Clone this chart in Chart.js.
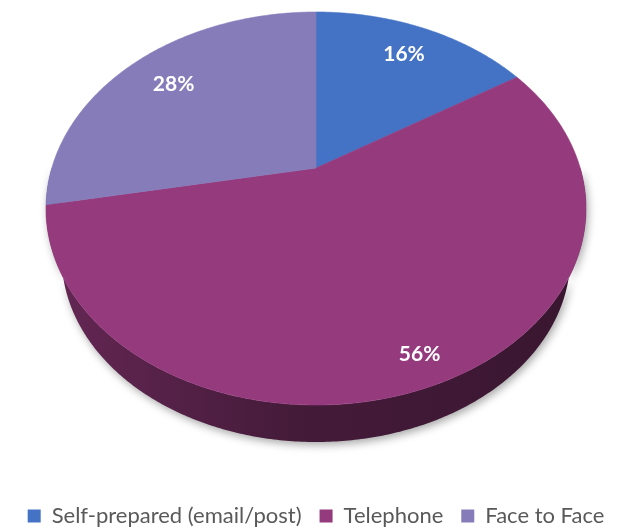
<!DOCTYPE html>
<html>
<head>
<meta charset="utf-8">
<script src="https://cdn.jsdelivr.net/npm/chart.js@4.4.0/dist/chart.umd.min.js"></script>
<style>
  html, body { margin: 0; padding: 0; background: #fff; }
  #wrap { width: 624px; height: 529px; }
</style>
</head>
<body>
<div id="wrap"><canvas id="pie3d"></canvas></div>
<script>
const categories = ["Self-prepared (email/post)", "Telephone", "Face to Face"];
const shares = [16, 56, 28];
const colors = ["#4472C4", "#953A7D", "#857CB9"];

// tilted pie look
const tilt = 0.206;        // how strongly the far side shrinks
const faceWidth = 540;
const faceHeight = 393;
const depth = 37;          // wall height at the front
const baseScale = 0.942;   // bottom rim is a bit smaller than the top one
const labelRadii = [0.79, 0.885, 0.77];

function shade(hex, f) {
  const n = parseInt(hex.slice(1), 16);
  const r = Math.round(((n >> 16) & 255) * f);
  const g = Math.round(((n >> 8) & 255) * f);
  const b = Math.round((n & 255) * f);
  return "rgb(" + r + "," + g + "," + b + ")";
}

const pie3d = {
  id: "pie3d",
  beforeDatasetsDraw(chart) {
    const ctx = chart.ctx;
    const arcs = chart.getDatasetMeta(0).data;
    const values = chart.data.datasets[0].data;
    const e = tilt;
    const sx = faceWidth / 2 * Math.sqrt(1 - e * e);
    const sy = faceHeight / 2 * (1 - e * e);
    const ax = arcs[0].x;
    const ay = chart.chartArea.top + sy / (1 + e);
    const ecy = ay + sy * e / (1 - e * e);
    const drop = faceHeight / 2 + depth - baseScale * faceHeight / 2;

    // phi runs clockwise from the back of the pie
    const proj = (phi, r) => {
      const X = r * Math.sin(phi), Z = r * Math.cos(phi);
      const w = 1 + e * Z;
      return { x: ax + sx * X / w, y: ay - sy * Z / w };
    };
    const under = q => ({
      x: ax + (q.x - ax) * baseScale,
      y: ecy + drop + (q.y - ecy) * baseScale
    });

    ctx.save();

    // walls on the front half
    arcs.forEach((a, i) => {
      const p1 = Math.max(a.startAngle + Math.PI / 2, Math.PI / 2);
      const p2 = Math.min(a.endAngle + Math.PI / 2, 3 * Math.PI / 2);
      if (p2 <= p1) return;
      const n = Math.ceil((p2 - p1) / 0.01);
      const top = [], bottom = [];
      for (let k = 0; k <= n; k++) {
        const q = proj(p1 + (p2 - p1) * k / n, 1);
        top.push(q);
        bottom.push(under(q));
      }
      const grad = ctx.createLinearGradient(ax - faceWidth / 2, 0, ax + faceWidth / 2, 0);
      grad.addColorStop(0, shade(colors[i], 0.68));
      grad.addColorStop(0.45, shade(colors[i], 0.46));
      grad.addColorStop(1, shade(colors[i], 0.38));
      ctx.beginPath();
      top.forEach((q, k) => k ? ctx.lineTo(q.x, q.y) : ctx.moveTo(q.x, q.y));
      for (let k = bottom.length - 1; k >= 0; k--) ctx.lineTo(bottom[k].x, bottom[k].y);
      ctx.closePath();
      ctx.shadowColor = "rgba(0,0,0,0.35)";
      ctx.shadowBlur = 9;
      ctx.shadowOffsetX = 2;
      ctx.shadowOffsetY = 3;
      ctx.fillStyle = grad;
      ctx.fill();
    });
    ctx.shadowColor = "transparent";

    // top face
    arcs.forEach((a, i) => {
      const p1 = a.startAngle + Math.PI / 2;
      const p2 = a.endAngle + Math.PI / 2;
      const n = Math.max(2, Math.ceil((p2 - p1) / 0.01));
      ctx.beginPath();
      ctx.moveTo(ax, ay);
      for (let k = 0; k <= n; k++) {
        const q = proj(p1 + (p2 - p1) * k / n, 1);
        ctx.lineTo(q.x, q.y);
      }
      ctx.closePath();
      ctx.fillStyle = colors[i];
      ctx.strokeStyle = colors[i];
      ctx.lineWidth = 0.6;
      ctx.fill();
      ctx.stroke();
    });

    // value labels
    ctx.fillStyle = "#ffffff";
    ctx.font = "bold 21px Lato";
    ctx.textAlign = "center";
    ctx.textBaseline = "middle";
    arcs.forEach((a, i) => {
      const mid = (a.startAngle + a.endAngle) / 2 + Math.PI / 2;
      const q = proj(mid, labelRadii[i]);
      ctx.fillText(values[i] + "%", q.x, q.y);
    });

    ctx.restore();
    return false;
  }
};

new Chart(document.getElementById("pie3d"), {
  type: "pie",
  data: {
    labels: categories,
    datasets: [
      {
        data: shares,
        backgroundColor: colors,
        borderWidth: 0,
      },
    ],
  },
  plugins: [pie3d],
  options: {
    responsive: true,
    maintainAspectRatio: false,
    animation: false,
    layout: { padding: { left: 8, top: 12, right: 0, bottom: -8 } },
    plugins: {
      tooltip: { enabled: false },
      legend: {
        position: "bottom",
        labels: {
          boxWidth: 13,
          boxHeight: 13,
          padding: 18,
          color: "#595959",
          font: { family: "Lato", size: 22 },
        },
      },
    },
  },
});
</script>
</body>
</html>
